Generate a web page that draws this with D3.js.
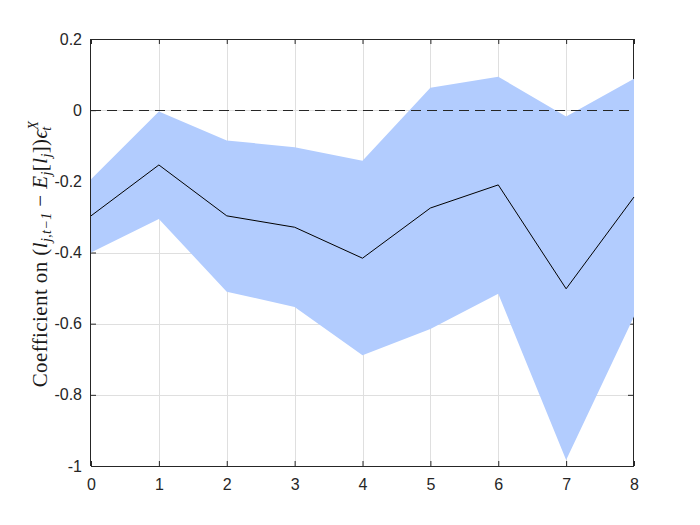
<!DOCTYPE html>
<html><head><meta charset="utf-8">
<script src="https://cdn.jsdelivr.net/npm/d3@7"></script>
<style>body{margin:0;background:#fff}</style>
</head><body>
<script>
const horizons = [0, 1, 2, 3, 4, 5, 6, 7, 8];
const coef  = [-0.297, -0.154, -0.297, -0.329, -0.416, -0.275, -0.210, -0.502, -0.244];
const upper = [-0.194, -0.004, -0.085, -0.104, -0.142, 0.063, 0.094, -0.018, 0.088];
const lower = [-0.400, -0.306, -0.510, -0.553, -0.689, -0.615, -0.516, -0.983, -0.580];
const xTicks = [0, 1, 2, 3, 4, 5, 6, 7, 8];
const yTicks = [0.2, 0, -0.2, -0.4, -0.6, -0.8, -1];
const yTickLabels = ["0.2", "0", "-0.2", "-0.4", "-0.6", "-0.8", "-1"];

const W = 700, H = 525;
const L = 91, R = 634, T = 39, B = 466;
const svg = d3.select("body").append("svg").attr("width", W).attr("height", H);
const x = d3.scaleLinear().domain([0, 8]).range([L, R]);
const y = d3.scaleLinear().domain([-1, 0.2]).range([B, T]);

const grid = "#dfdfdf";
const g = svg.append("g");
g.selectAll(".vg").data(xTicks.slice(1, -1)).enter().append("line")
  .attr("x1", d => Math.round(x(d)) + 0.5).attr("x2", d => Math.round(x(d)) + 0.5)
  .attr("y1", T).attr("y2", B).attr("stroke", grid).attr("stroke-width", 1);
g.selectAll(".hg").data(yTicks.slice(1, -1)).enter().append("line")
  .attr("y1", d => Math.round(y(d)) + 0.5).attr("y2", d => Math.round(y(d)) + 0.5)
  .attr("x1", L).attr("x2", R).attr("stroke", grid).attr("stroke-width", 1);

const axCol = "#262626";
const xb = svg.append("g").attr("transform", `translate(0,${B})`)
  .call(d3.axisBottom(x).tickValues(xTicks).tickSize(-5).tickPadding(13).tickFormat(d3.format("d")));
const xt = svg.append("g").attr("transform", `translate(0,${T})`)
  .call(d3.axisTop(x).tickValues(xTicks).tickSize(-5).tickFormat(""));
const yl = svg.append("g").attr("transform", `translate(${L},0)`)
  .call(d3.axisLeft(y).tickValues(yTicks).tickSize(-5).tickPadding(9).tickFormat((d, i) => yTickLabels[i]));
const yr = svg.append("g").attr("transform", `translate(${R - 1},0)`)
  .call(d3.axisRight(y).tickValues(yTicks).tickSize(-5).tickFormat(""));
[xb, xt, yl, yr].forEach(a => {
  a.attr("font-size", null).attr("font-family", null);
  a.selectAll("path").attr("stroke", axCol).attr("stroke-width", 1);
  a.selectAll(".tick line").attr("stroke", axCol);
  a.selectAll("text").attr("fill", axCol).style("font-family", "'Liberation Sans', Arial, sans-serif").style("font-size", "16px");
});
xb.selectAll("path").attr("d", `M${L},0.5H${R}`);
xt.selectAll("path").attr("d", `M${L},0.5H${R}`);
yl.selectAll("path").attr("d", `M-0.5,${T}V${B}`);
yr.selectAll("path").attr("d", `M0.5,${T}V${B}`);

const area = d3.area().x((d, i) => x(horizons[i])).y0((d, i) => y(lower[i])).y1((d, i) => y(upper[i]));
svg.append("path").datum(horizons).attr("d", area).attr("fill", "#b2ccfe").attr("stroke", "none");

svg.append("line").attr("x1", L).attr("x2", R - 1).attr("y1", Math.round(y(0)) + 0.5).attr("y2", Math.round(y(0)) + 0.5)
  .attr("stroke", "#262626").attr("stroke-width", 1).attr("stroke-dasharray", "10,6");

const line = d3.line().x((d, i) => x(horizons[i])).y((d, i) => y(coef[i]));
svg.append("path").datum(horizons).attr("d", line).attr("fill", "none").attr("stroke", "#000").attr("stroke-width", 1);

const lab = svg.append("text").attr("transform", `translate(47,254) rotate(-90)`)
  .attr("text-anchor", "middle").attr("fill", "#1a1a1a")
  .style("font-family", "'Liberation Serif', 'Times New Roman', serif").style("font-size", "21px")
  .style("letter-spacing", "0.4px");
lab.append("tspan").text("Coefficient on (");
lab.append("tspan").style("font-style", "italic").text("l");
lab.append("tspan").style("font-style", "italic").style("font-size", "14px").attr("dy", 4).text("j,t\u22121");
lab.append("tspan").attr("dy", -4).text(" \u2212 ");
lab.append("tspan").style("font-style", "italic").text("E");
lab.append("tspan").style("font-style", "italic").style("font-size", "14px").attr("dy", 4).text("j");
lab.append("tspan").attr("dy", -4).text("[");
lab.append("tspan").style("font-style", "italic").text("l");
lab.append("tspan").style("font-style", "italic").style("font-size", "14px").attr("dy", 4).text("j");
lab.append("tspan").attr("dy", -4).text("])");
lab.append("tspan").style("font-style", "italic").text("\u03f5");
lab.append("tspan").style("font-style", "italic").style("font-size", "14px").attr("dy", -9).text("X");
lab.append("tspan").style("font-style", "italic").style("font-size", "14px").attr("dx", -10).attr("dy", 13).text("t");
</script>
</body></html>
